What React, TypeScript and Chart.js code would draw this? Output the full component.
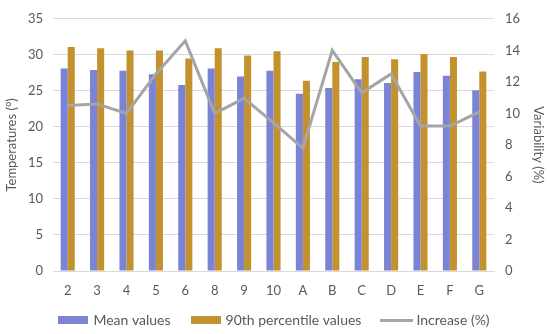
import React, { useEffect, useRef } from "react";
import { Chart, registerables } from "chart.js";

Chart.register(...registerables);

const categories = ["2", "3", "4", "5", "6", "8", "9", "10", "A", "B", "C", "D", "E", "F", "G"];
const meanValues = [28.1, 27.9, 27.8, 27.3, 25.8, 28.1, 27.0, 27.8, 24.6, 25.4, 26.6, 26.1, 27.6, 27.1, 25.1];
const p90Values = [31.1, 30.9, 30.6, 30.6, 29.5, 30.9, 29.9, 30.5, 26.4, 29.0, 29.7, 29.4, 30.1, 29.7, 27.7];
const increaseValues = [10.5, 10.6, 10.0, 12.5, 14.6, 10.0, 10.95, 9.4, 7.8, 14.0, 11.3, 12.5, 9.2, 9.2, 10.1];
const seriesNames = ["Mean values", "90th percentile values", "Increase (%)"];

const MEAN_COLOR = "#7a83d4";
const P90_COLOR = "#c3922f";
const LINE_COLOR = "#a5a5a5";
const TEXT_COLOR = "#595959";
const GRID_COLOR = "#d9d9d9";
const FONT = "Lato, 'Open Sans', sans-serif";

function swatch(w: number, h: number, color: string) {
  const c = document.createElement("canvas");
  c.width = w;
  c.height = h;
  const ctx = c.getContext("2d")!;
  ctx.fillStyle = color;
  ctx.fillRect(0, 0, w, h);
  return c;
}

export default function App() {
  const ref = useRef<HTMLCanvasElement>(null);
  useEffect(() => {
    if (!ref.current) return;
    const styles = [swatch(30, 8, MEAN_COLOR), swatch(30, 8, P90_COLOR), swatch(33, 3, LINE_COLOR)];
    const chart = new Chart(ref.current, {
      type: "bar",
      data: {
        labels: categories,
        datasets: [
          {
            type: "bar",
            label: seriesNames[0],
            data: meanValues,
            backgroundColor: MEAN_COLOR,
            yAxisID: "y",
            order: 1,
            categoryPercentage: 0.48,
            barPercentage: 1,
          },
          {
            type: "bar",
            label: seriesNames[1],
            data: p90Values,
            backgroundColor: P90_COLOR,
            yAxisID: "y",
            order: 1,
            categoryPercentage: 0.48,
            barPercentage: 1,
          },
          {
            type: "line",
            label: seriesNames[2],
            data: increaseValues,
            borderColor: LINE_COLOR,
            backgroundColor: LINE_COLOR,
            borderWidth: 3,
            pointRadius: 0,
            tension: 0,
            yAxisID: "y2",
            order: 0,
          },
        ],
      },
      options: {
        animation: false,
        responsive: true,
        maintainAspectRatio: false,
        layout: { padding: { top: 2, left: 0, right: 0, bottom: -3 } },
        plugins: {
          tooltip: { enabled: false },
          legend: {
            position: "bottom",
            labels: {
              color: TEXT_COLOR,
              font: { family: FONT, size: 14 },
              usePointStyle: true,
              pointStyleWidth: 26,
              padding: 22,
              generateLabels: () =>
                seriesNames.map((name, i) => ({
                  text: name,
                  pointStyle: styles[i] as any,
                  fillStyle: "transparent",
                  strokeStyle: "transparent",
                  lineWidth: 0,
                  fontColor: TEXT_COLOR,
                  hidden: false,
                  datasetIndex: i,
                })),
            },
          },
        },
        scales: {
          x: {
            grid: { display: false, drawTicks: false },
            border: { display: true, color: GRID_COLOR },
            ticks: { color: TEXT_COLOR, font: { family: FONT, size: 13 }, padding: 12, maxRotation: 0, autoSkip: false },
            afterFit: (s: any) => {
              s.height = 20;
              s._computeLabelArea = () => undefined;
            },
          },
          y: {
            position: "left",
            min: 0,
            max: 35,
            ticks: { stepSize: 5, color: TEXT_COLOR, font: { family: FONT, size: 13 }, padding: 10 },
            grid: { color: GRID_COLOR, drawTicks: false },
            border: { display: false },
            title: {
              display: true,
              text: "Temperatures (°)",
              color: TEXT_COLOR,
              font: { family: FONT, size: 13 },
              padding: { top: 4, bottom: 0 },
            },
            afterFit: (s: any) => {
              s.width = 53;
            },
          },
          y2: {
            position: "right",
            min: 0,
            max: 16,
            ticks: { stepSize: 2, color: TEXT_COLOR, font: { family: FONT, size: 13 }, padding: 11 },
            grid: { display: false, drawTicks: false },
            border: { display: false },
            title: {
              display: true,
              text: "Variability (%)",
              color: TEXT_COLOR,
              font: { family: FONT, size: 13 },
              padding: { top: 4, bottom: 0 },
            },
            afterFit: (s: any) => {
              s.width = 56;
            },
          },
        },
      },
    });
    return () => chart.destroy();
  }, []);
  return (
    <div style={{ position: "fixed", left: 0, top: 0, width: 550, height: 334, background: "#fff" }}>
      <canvas ref={ref} />
    </div>
  );
}
